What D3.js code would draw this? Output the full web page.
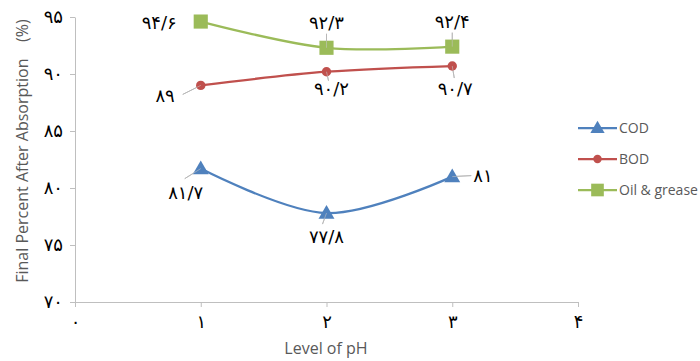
<!DOCTYPE html>
<html><head><meta charset="utf-8">
<script src="https://cdn.jsdelivr.net/npm/d3@7"></script>
<style>body{margin:0;background:#fff}</style>
</head><body>
<svg id="c" width="700" height="361"></svg>
<script>
const xValues = [1, 2, 3];
const codValues = [81.7, 77.8, 81];
const bodValues = [89, 90.2, 90.7];
const oilValues = [94.6, 92.3, 92.4];
const seriesNames = ["COD", "BOD", "Oil & grease"];
const xTicks = [0, 1, 2, 3, 4];
const yTicks = [70, 75, 80, 85, 90, 95];
const fa = v => String(v).replace(".", "/").replace(/[0-9]/g, d => "۰۱۲۳۴۵۶۷۸۹"[+d]);

const svg = d3.select("#c");
const x = d3.scaleLinear().domain([0, 4]).range([75, 578]);
const y = d3.scaleLinear().domain([70, 95]).range([302, 17]);
const colors = ["#4F81BD", "#C0504D", "#9BBB59"];
const numFont = "'DejaVu Sans', sans-serif";
const txtFont = "'Open Sans', 'Liberation Sans', sans-serif";
const numSize = 18;

// axes
const xa = svg.append("g").attr("transform", "translate(0,302)")
  .call(d3.axisBottom(x).tickValues(xTicks).tickSize(5).tickSizeOuter(0).tickFormat(fa));
const ya = svg.append("g").attr("transform", "translate(75,0)")
  .call(d3.axisLeft(y).tickValues(yTicks).tickSize(5).tickSizeOuter(0).tickFormat(fa));
[xa, ya].forEach(a => {
  a.select(".domain").attr("stroke", "#BFBFBF");
  a.selectAll(".tick line").attr("stroke", "#BFBFBF");
  a.selectAll("text").attr("fill", "#000").attr("font-family", numFont).attr("font-size", numSize);
});
xa.selectAll("text").attr("y", 20).attr("dy", "0.35em");
ya.selectAll("text").attr("x", -12);

// titles
svg.append("text").attr("x", 326).attr("y", 354).attr("text-anchor", "middle")
  .attr("font-family", txtFont).attr("font-size", 16).attr("fill", "#595959").text("Level of pH");
svg.append("text").attr("transform", "translate(28,151) rotate(-90)").attr("text-anchor", "middle")
  .attr("font-family", txtFont).attr("font-size", 16).attr("fill", "#595959")
  .attr("xml:space", "preserve").style("white-space", "pre")
  .text("Final Percent After Absorption    (%)");

const all = [codValues, bodValues, oilValues];
const line = d3.line().x((d, i) => x(xValues[i])).y(d => y(d)).curve(d3.curveCardinal.tension(0));

// label offsets: [textDx, textDy, leaderDx, leaderDy]
const labelOffsets = [
  [[-15, 24, -16, 10], [0, 24, -4, 11], [21, -1, 19, -1]],
  [[-26, 10, -18, 9], [5, 17, 2, 9], [3, 23, 2, 12]],
  [[-24, 1, null], [0, -25, 0, -14], [0, -25, 0, -14]]
];
const anchors = [
  ["middle", "middle", "start"],
  ["end", "middle", "middle"],
  ["end", "middle", "middle"]
];
all.forEach((vals, s) => {
  vals.forEach((v, i) => {
    const px = x(xValues[i]), py = y(v);
    const o = labelOffsets[s][i];
    if (o[2] !== null) {
      svg.append("line").attr("x1", px).attr("y1", py).attr("x2", px + o[2]).attr("y2", py + o[3])
        .attr("stroke", "#A6A6A6").attr("stroke-width", 1);
    }
  });
});

all.forEach((vals, s) => {
  svg.append("path").datum(vals).attr("d", line).attr("fill", "none")
    .attr("stroke", colors[s]).attr("stroke-width", 2.25);
});

const symbols = [d3.symbolTriangle, d3.symbolCircle, d3.symbolSquare];
const symSizes = [110, 70, 200];
function marker(g, s, cx, cy, scale) {
  g.append("path").attr("d", d3.symbol().type(symbols[s]).size(symSizes[s] * scale)())
    .attr("transform", `translate(${cx},${cy + (s === 0 ? 1 : 0)})`).attr("fill", colors[s]);
}
all.forEach((vals, s) => {
  vals.forEach((v, i) => marker(svg, s, x(xValues[i]), y(v), 1));
});
// leader overlay through markers (as in the reference)
all.forEach((vals, s) => {
  vals.forEach((v, i) => {
    const px = x(xValues[i]), py = y(v);
    const o = labelOffsets[s][i];
    if (o[2] !== null) {
      svg.append("line").attr("x1", px).attr("y1", py).attr("x2", px + o[2]).attr("y2", py + o[3])
        .attr("stroke", "#C8C8C8").attr("stroke-width", 0.8).attr("opacity", 0.7);
    }
  });
});

all.forEach((vals, s) => {
  vals.forEach((v, i) => {
    const px = x(xValues[i]), py = y(v);
    const o = labelOffsets[s][i];
    svg.append("text").attr("x", px + o[0]).attr("y", py + o[1]).attr("dy", "0.35em")
      .attr("text-anchor", anchors[s][i]).attr("font-family", numFont).attr("font-size", numSize)
      .attr("fill", "#000").text(fa(v));
  });
});

// legend
const legY = [128, 159, 190];
seriesNames.forEach((n, s) => {
  const g = svg.append("g");
  g.append("line").attr("x1", 578).attr("x2", 617).attr("y1", legY[s]).attr("y2", legY[s])
    .attr("stroke", colors[s]).attr("stroke-width", 2.25);
  marker(g, s, 597.5, legY[s], 0.8);
  g.append("text").attr("x", 619).attr("y", legY[s]).attr("dy", "0.35em")
    .attr("font-family", txtFont).attr("font-size", 14).attr("fill", "#595959").text(n);
});
</script>
</body></html>
